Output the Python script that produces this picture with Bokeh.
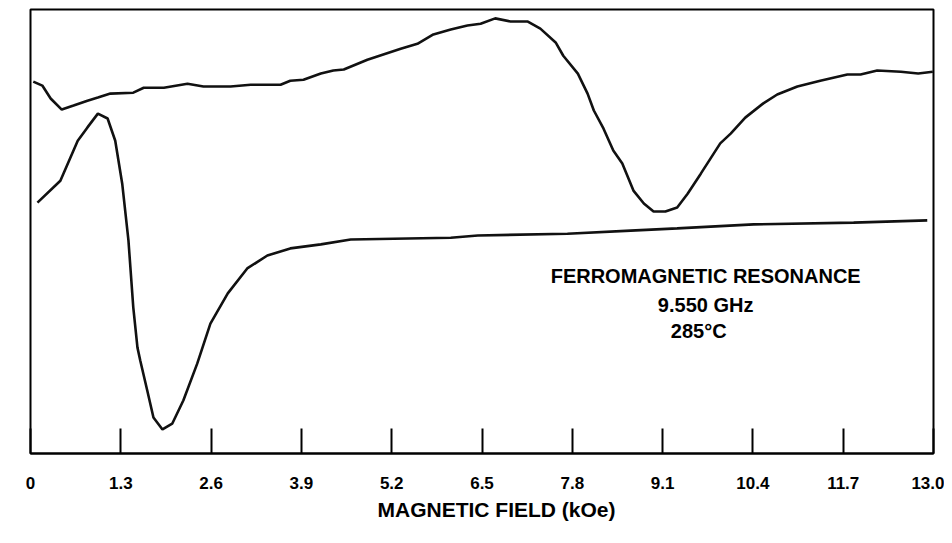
from bokeh.plotting import figure
from bokeh.models import FixedTicker, Label, Range1d, Title
from bokeh.embed import file_html
from bokeh.resources import INLINE

# Magnetic field ticks (kOe)
tick_values = [0, 1.3, 2.6, 3.9, 5.2, 6.5, 7.8, 9.1, 10.4, 11.7, 13.0]
tick_labels = ["0", "1.3", "2.6", "3.9", "5.2", "6.5", "7.8", "9.1", "10.4", "11.7", "13.0"]

# Upper trace (arbitrary units)
upper_field = [0.04, 0.17, 0.29, 0.45, 0.62, 0.82, 0.97, 1.15, 1.48, 1.63, 1.92, 2.26, 2.49,
               2.88, 3.17, 3.60, 3.74, 3.93, 4.18, 4.36, 4.51, 4.85, 5.33, 5.57, 5.80, 6.05,
               6.29, 6.48, 6.69, 6.91, 7.16, 7.34, 7.56, 7.67, 7.88, 8.02, 8.11, 8.25, 8.39,
               8.52, 8.68, 8.83, 8.97, 9.14, 9.31, 9.46, 9.65, 9.93, 10.08, 10.29, 10.55,
               10.75, 11.04, 11.37, 11.76, 11.95, 12.19, 12.53, 12.78, 12.99]
upper_signal = [83.6, 82.7, 79.8, 77.3, 78.2, 79.3, 80.0, 80.9, 81.1, 82.2, 82.2, 83.1, 82.5,
                82.5, 82.9, 82.9, 83.8, 84.0, 85.4, 86.1, 86.3, 88.5, 91.0, 92.1, 94.2, 95.3,
                96.2, 96.6, 97.8, 97.1, 97.1, 95.5, 92.4, 89.4, 85.4, 80.9, 77.1, 73.0, 68.1,
                65.2, 59.1, 56.2, 54.4, 54.4, 55.3, 58.4, 62.9, 69.7, 71.9, 75.5, 78.7,
                80.7, 82.5, 83.8, 85.2, 85.2, 86.1, 85.8, 85.4, 85.8]

# Lower trace (arbitrary units)
lower_field = [0.10, 0.43, 0.68, 0.82, 0.97, 1.11, 1.22, 1.32, 1.41, 1.48, 1.54, 1.58, 1.68,
               1.77, 1.90, 2.04, 2.20, 2.40, 2.59, 2.84, 3.12, 3.41, 3.74, 4.18, 4.61, 6.05,
               6.44, 7.73, 8.64, 9.31, 10.41, 11.85, 12.91]
lower_signal = [56.4, 61.3, 70.3, 73.3, 76.4, 75.3, 70.3, 60.7, 47.9, 32.8, 23.8, 20.9, 14.2,
                8.1, 5.4, 6.7, 11.9, 20.2, 29.2, 36.0, 41.6, 44.5, 46.1, 47.0, 48.1, 48.5,
                49.0, 49.4, 50.1, 50.6, 51.5, 51.9, 52.4]

annotation_lines = ["FERROMAGNETIC  RESONANCE", "9.550  GHz", "285\u00b0C"]
x_title = "MAGNETIC  FIELD  (kOe)"

FONT = "Liberation Sans"

p = figure(width=944, height=535, output_backend="svg", toolbar_location=None,
           x_range=Range1d(0, 13.0), y_range=Range1d(0, 99.8),
           y_axis_location=None, min_border_left=30, min_border_right=11,
           min_border_top=9, min_border_bottom=82)

p.grid.visible = False
p.outline_line_color = "black"
p.outline_line_width = 2
p.outline_line_alpha = 1.0

xa = p.xaxis[0]
xa.ticker = FixedTicker(ticks=tick_values, minor_ticks=[])
xa.major_label_overrides = {v: s for v, s in zip(tick_values, tick_labels)}
xa.major_tick_in = 25
xa.major_tick_out = 0
xa.major_tick_line_width = 2
xa.major_tick_line_color = "black"
xa.minor_tick_line_color = None
xa.axis_line_width = 2
xa.axis_line_color = "black"
xa.major_label_standoff = 23
xa.major_label_text_font = FONT
xa.major_label_text_font_style = "bold"
xa.major_label_text_font_size = "17px"
xa.major_label_text_color = "black"

# axis title, set below the axis and shifted right like the reference
p.add_layout(Title(text=x_title, align="left", offset=347, standoff=8,
                   text_font=FONT, text_font_style="bold", text_font_size="21px",
                   text_color="black"), "below")

p.line(upper_field, upper_signal, line_color="#111111", line_width=2.6)
p.line(lower_field, lower_signal, line_color="#111111", line_width=2.6)

ann_x = [9.76, 9.76, 9.62]
ann_y = [39.8, 33.3, 27.6]
for t, ax, ay in zip(annotation_lines, ann_x, ann_y):
    p.add_layout(Label(x=ax, y=ay, text=t, text_align="center", text_baseline="middle",
                       text_font=FONT, text_font_style="bold", text_font_size="20px",
                       text_color="black"))

open("out.html", "w").write(file_html(p, INLINE))
